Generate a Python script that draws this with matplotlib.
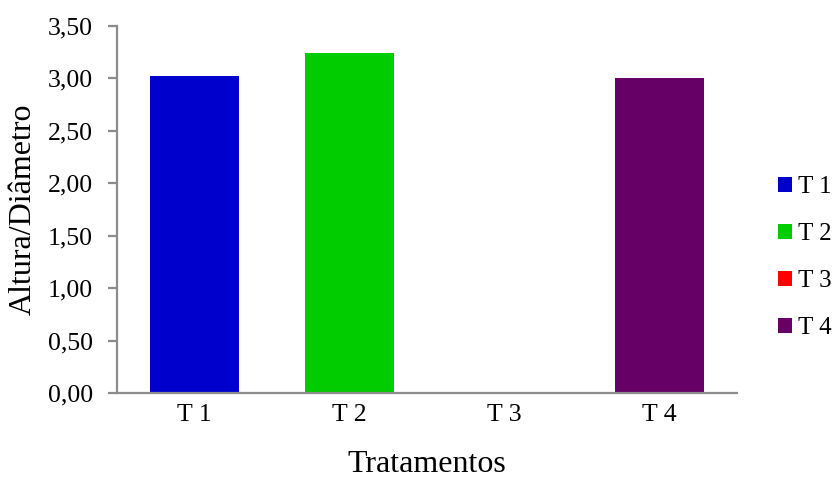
import matplotlib
matplotlib.use("Agg")
import matplotlib.pyplot as plt
from matplotlib.patches import Patch
from matplotlib.ticker import FuncFormatter

plt.rcParams['font.family'] = ['Liberation Serif', 'DejaVu Serif']

categories = ["T 1", "T 2", "T 3", "T 4"]
values = [3.02, 3.24, 0.0, 3.00]
colors = ["#0000CC", "#00CC00", "#FF0000", "#660066"]
yticks = [0.0, 0.5, 1.0, 1.5, 2.0, 2.5, 3.0, 3.5]

fig = plt.figure(figsize=(8.36, 4.78), dpi=100)
ax = fig.add_axes([0.140, 0.1778, 0.7416, 0.7678])

x = range(len(categories))
ax.bar(x, values, width=0.574, color=colors)

ax.set_xlim(-0.5, len(categories) - 0.5)
ax.set_ylim(0, 3.5)
ax.set_yticks(yticks)
ax.yaxis.set_major_formatter(FuncFormatter(lambda v, p: f"{v:.2f}".replace(".", ",")))
ax.set_xticks(list(x))
ax.set_xticklabels(categories)

axis_color = "#8C8C8C"
for side in ("top", "right"):
    ax.spines[side].set_visible(False)
for side in ("left", "bottom"):
    ax.spines[side].set_color(axis_color)
    ax.spines[side].set_linewidth(1.6)

ax.tick_params(axis="y", direction="out", length=6.5, width=1.6, color=axis_color,
               labelsize=18.5, pad=11)
ax.tick_params(axis="x", length=0, labelsize=18.5, pad=8)

ax.set_ylabel("Altura/Diâmetro", fontsize=23, va="center")
ax.yaxis.set_label_coords(-0.152, 0.5)
ax.set_xlabel("Tratamentos", fontsize=23, va="center")
ax.xaxis.set_label_coords(0.5, -0.196)

handles = [Patch(facecolor=c, edgecolor="none") for c in colors]
fig.legend(handles, categories, loc="center left", bbox_to_anchor=(0.931, 0.461),
           frameon=False, fontsize=18, handlelength=0.53, handleheight=0.53,
           handletextpad=0.25, labelspacing=1.0, borderpad=0, borderaxespad=0)

fig.savefig("out.png", dpi=100)
